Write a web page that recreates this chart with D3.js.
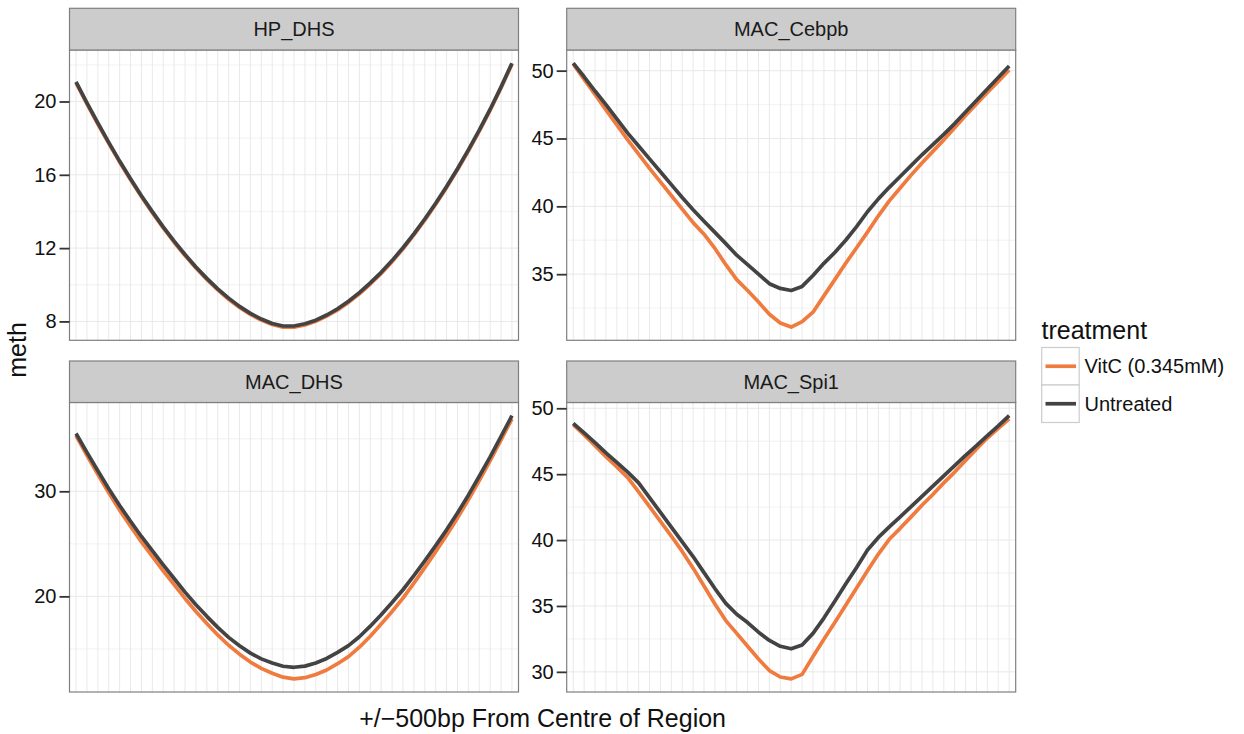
<!DOCTYPE html>
<html><head><meta charset="utf-8">
<script src="https://cdn.jsdelivr.net/npm/d3@7"></script>
<style>html,body{margin:0;padding:0;background:#fff;} svg{display:block;font-family:"Liberation Sans",Arial,Helvetica,sans-serif;}</style>
</head><body>
<svg id="chart" width="1244" height="734"></svg>
<script>
// ---- data ----
const positions = [-500,-475,-450,-425,-400,-375,-350,-325,-300,-275,-250,-225,-200,-175,-150,-125,-100,-75,-50,-25,0,25,50,75,100,125,150,175,200,225,250,275,300,325,350,375,400,425,450,475,500];
const panelNames = ["HP_DHS","MAC_Cebpb","MAC_DHS","MAC_Spi1"];
const seriesNames = ["VitC (0.345mM)","Untreated"];
const seriesColors = ["#f07b3f","#434343"];

const hpVitC = [21.01,19.87,18.77,17.71,16.69,15.73,14.80,13.93,13.10,12.32,11.59,10.91,10.29,9.72,9.21,8.76,8.38,8.07,7.83,7.69,7.69,7.81,8.01,8.29,8.63,9.04,9.51,10.04,10.62,11.26,11.96,12.72,13.53,14.39,15.30,16.27,17.30,18.38,19.52,20.74,22.03];
const hpUntreated = [21.07,19.93,18.83,17.77,16.75,15.79,14.86,13.99,13.16,12.38,11.65,10.97,10.35,9.78,9.27,8.82,8.44,8.13,7.89,7.75,7.75,7.87,8.07,8.35,8.69,9.10,9.57,10.10,10.68,11.32,12.02,12.78,13.59,14.45,15.36,16.33,17.36,18.44,19.58,20.80,22.09];
const cebpbVitC = [50.5,49.35,48.25,47.1,46.0,44.9,43.85,42.8,41.8,40.8,39.8,38.8,37.95,36.9,35.7,34.6,33.8,32.95,32.05,31.4,31.1,31.5,32.2,33.4,34.6,35.8,36.95,38.1,39.3,40.4,41.35,42.3,43.2,44.05,44.9,45.8,46.7,47.55,48.4,49.2,50.05];
const cebpbUntreated = [50.55,49.55,48.5,47.5,46.45,45.4,44.45,43.5,42.55,41.6,40.65,39.75,38.9,38.08,37.25,36.4,35.7,35.0,34.3,33.95,33.8,34.1,34.9,35.8,36.6,37.5,38.5,39.6,40.55,41.4,42.2,43.0,43.8,44.55,45.3,46.1,46.95,47.8,48.65,49.5,50.35];
const macDhsVitC = [35.3,33.43,31.62,29.85,28.21,26.67,25.18,23.8,22.43,21.11,19.8,18.56,17.42,16.33,15.35,14.5,13.75,13.15,12.68,12.31,12.15,12.26,12.56,12.99,13.59,14.26,15.16,16.21,17.36,18.56,19.83,21.26,22.73,24.25,25.81,27.46,29.19,31.03,32.92,34.9,36.9];
const macDhsUntreated = [35.5,33.7,31.95,30.25,28.65,27.15,25.7,24.35,23.0,21.7,20.4,19.2,18.1,17.05,16.1,15.3,14.6,14.05,13.65,13.35,13.25,13.36,13.66,14.09,14.67,15.31,16.16,17.16,18.26,19.41,20.63,21.98,23.38,24.83,26.33,27.93,29.63,31.43,33.28,35.23,37.2];
const spi1VitC = [48.76,47.98,47.16,46.33,45.55,44.73,43.66,42.54,41.42,40.30,39.14,37.87,36.51,35.15,33.89,32.92,31.94,30.97,30.10,29.61,29.47,29.81,31.17,32.48,33.74,35.05,36.37,37.68,38.94,40.06,40.89,41.76,42.64,43.46,44.34,45.16,46.04,46.91,47.74,48.47,49.20];
const spi1Untreated = [48.86,48.13,47.40,46.62,45.89,45.16,44.34,43.22,42.10,40.98,39.87,38.75,37.53,36.32,35.20,34.37,33.74,33.01,32.38,31.94,31.75,32.04,32.92,34.08,35.35,36.66,37.92,39.25,40.2,41.0,41.76,42.54,43.32,44.09,44.87,45.65,46.43,47.16,47.93,48.66,49.44];

const hpTicks = [8,12,16,20];
const cebpbTicks = [35,40,45,50];
const macDhsTicks = [20,30];
const spi1Ticks = [30,35,40,45,50];

const panelSeries = [[hpVitC,hpUntreated],[cebpbVitC,cebpbUntreated],[macDhsVitC,macDhsUntreated],[spi1VitC,spi1Untreated]];
const panelTicks = [hpTicks,cebpbTicks,macDhsTicks,spi1Ticks];

// ---- layout ----
const svg = d3.select("#chart");
const colX = [[69.5,518.5],[566.7,1015.7]];
const rowY = [{s:8.3,p:50,b:340.3},{s:361,p:402.5,b:692}];
const gridMajor = "#e6e6e6", gridMinor = "#f5f5f5", borderCol = "#7f7f7f";

panelNames.forEach((name, k) => {
  const c = colX[k % 2], r = rowY[Math.floor(k / 2)];
  const g = svg.append("g");
  const x = d3.scalePoint().domain(positions).range(c).padding(0.6);
  const all = panelSeries[k].flat();
  const [mn, mx] = d3.extent(all);
  const pad = (mx - mn) * 0.05;
  const y = d3.scaleLinear().domain([mn - pad, mx + pad]).range([r.b, r.p]);
  const ticks = panelTicks[k];
  const step = ticks[1] - ticks[0];
  const minors = [];
  for (let t = ticks[0] - step / 2; t <= y.domain()[1]; t += step) if (t >= y.domain()[0]) minors.push(t);

  g.append("rect").attr("x", c[0]).attr("y", r.p).attr("width", c[1]-c[0]).attr("height", r.b-r.p).attr("fill", "#fff");
  g.selectAll(".mn").data(minors).enter().append("line")
    .attr("x1", c[0]).attr("x2", c[1]).attr("y1", d => y(d)).attr("y2", d => y(d))
    .attr("stroke", gridMinor).attr("stroke-width", 1.4);
  g.selectAll(".vx").data(positions).enter().append("line")
    .attr("x1", d => x(d)).attr("x2", d => x(d)).attr("y1", r.p).attr("y2", r.b)
    .attr("stroke", gridMajor).attr("stroke-width", 0.9);
  g.selectAll(".mj").data(ticks).enter().append("line")
    .attr("x1", c[0]).attr("x2", c[1]).attr("y1", d => y(d)).attr("y2", d => y(d))
    .attr("stroke", gridMajor).attr("stroke-width", 0.9);

  const line = d3.line().x((d, i) => x(positions[i])).y(d => y(d));
  panelSeries[k].forEach((vals, si) => {
    g.append("path").datum(vals).attr("d", line).attr("fill", "none")
      .attr("stroke", seriesColors[si]).attr("stroke-width", 3.7)
      .attr("stroke-linejoin", "round").attr("stroke-linecap", "butt");
  });

  g.append("rect").attr("x", c[0]).attr("y", r.p).attr("width", c[1]-c[0]).attr("height", r.b-r.p)
    .attr("fill", "none").attr("stroke", borderCol).attr("stroke-width", 1.2);
  g.append("rect").attr("x", c[0]).attr("y", r.s).attr("width", c[1]-c[0]).attr("height", r.p-r.s)
    .attr("fill", "#cccccc").attr("stroke", borderCol).attr("stroke-width", 1.2);
  g.append("text").attr("x", (c[0]+c[1])/2).attr("y", (r.s+r.p)/2).attr("dy", "0.36em")
    .attr("text-anchor", "middle").attr("font-size", 20).attr("fill", "#1a1a1a").text(name);
  const ax = svg.append("g").attr("transform", `translate(${c[0]},0)`)
    .call(d3.axisLeft(y).tickValues(ticks).tickSize(10).tickPadding(3).tickFormat(d3.format("d")));
  ax.select(".domain").remove();
  ax.selectAll(".tick line").attr("stroke", "#333").attr("stroke-width", 1.8);
  ax.selectAll(".tick text").attr("font-size", 20).attr("fill", "#111")
    .attr("font-family", "'Liberation Sans',Arial,sans-serif");
});

svg.append("text").attr("x", 542.6).attr("y", 727).attr("text-anchor", "middle")
  .attr("font-size", 25).attr("fill", "#111").text("+/\u2212500bp From Centre of Region");
svg.append("text").attr("transform", "translate(26,350) rotate(-90)").attr("text-anchor", "middle")
  .attr("font-size", 25).attr("fill", "#111").text("meth");

const lg = svg.append("g");
lg.append("text").attr("x", 1041.5).attr("y", 338.5).attr("font-size", 25).attr("fill", "#111").text("treatment");
seriesNames.forEach((nm, i) => {
  const y0 = 347.5 + i * 37.5;
  lg.append("rect").attr("x", 1041.7).attr("y", y0).attr("width", 37.5).attr("height", 37.5)
    .attr("fill", "#fff").attr("stroke", "#cccccc").attr("stroke-width", 1.2);
  lg.append("line").attr("x1", 1045.5).attr("x2", 1076).attr("y1", y0 + 18.75).attr("y2", y0 + 18.75)
    .attr("stroke", seriesColors[i]).attr("stroke-width", 3.7);
  lg.append("text").attr("x", 1084.5).attr("y", y0 + 18.75).attr("dy", "0.36em")
    .attr("font-size", 20).attr("fill", "#111").text(nm);
});
</script>
</body></html>
